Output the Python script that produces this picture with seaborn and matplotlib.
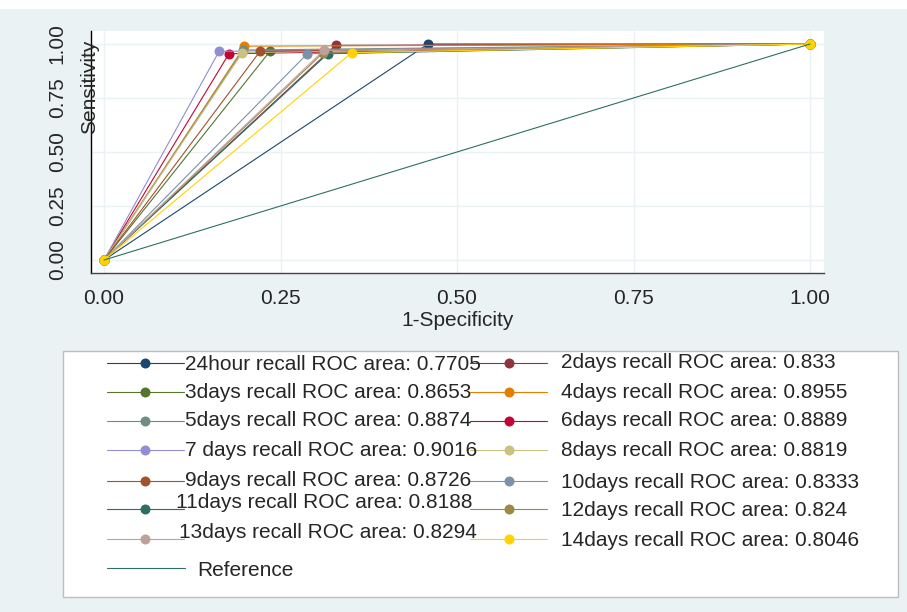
import numpy as np
import pandas as pd
import matplotlib
matplotlib.use("Agg")
import matplotlib.pyplot as plt
import seaborn as sns
from matplotlib.lines import Line2D
from matplotlib.patches import Rectangle

# ============================================================
# Data
# ============================================================

names = ["24hour", "2days", "3days", "4days", "5days", "6days", "7 days",
         "8days", "9days", "10days", "11days", "12days", "13days", "14days"]
roc_area = ["0.7705", "0.833", "0.8653", "0.8955", "0.8874", "0.8889", "0.9016",
            "0.8819", "0.8726", "0.8333", "0.8188", "0.824", "0.8294", "0.8046"]
# single cut-point of each classifier (1-specificity, sensitivity)
fpr = [0.459, 0.328, 0.235, 0.199, 0.197, 0.177, 0.163,
       0.196, 0.221, 0.288, 0.317, 0.310, 0.311, 0.351]
tpr = [1.000, 0.994, 0.966, 0.990, 0.972, 0.955, 0.966,
       0.960, 0.966, 0.955, 0.955, 0.958, 0.970, 0.960]
ref_x = [0.0, 1.0]
ref_y = [0.0, 1.0]
ticks = [0.0, 0.25, 0.5, 0.75, 1.0]
tick_labels = ["0.00", "0.25", "0.50", "0.75", "1.00"]

colors = ["#1a476f", "#90353b", "#55752f", "#e37e00", "#6e8e84", "#c10534", "#938dd2",
          "#cac27e", "#a0522d", "#7b92a8", "#2d6d66", "#9c8847", "#bfa19c", "#ffd200"]
ref_color = "#2e7063"

labels = [f"{n} recall ROC area: {a}" for n, a in zip(names, roc_area)]

rows = []
for lab, fx, ty in zip(labels, fpr, tpr):
    for i, (x, y) in enumerate([(0.0, 0.0), (fx, ty), (1.0, 1.0)]):
        rows.append({"curve": lab, "order": i, "fpr": x, "tpr": y})
df = pd.DataFrame(rows)
ref_df = pd.DataFrame({"fpr": ref_x, "tpr": ref_y})

# ============================================================
# Figure
# ============================================================

sns.set_style("white")
plt.rcParams["font.family"] = ["Liberation Sans", "DejaVu Sans"]
FS = 15
BG = "#eaf2f3"

W, H = 907, 612
fig = plt.figure(figsize=(W / 100, H / 100), dpi=100)
fig.patch.set_facecolor(BG)


def fx_(x):
    return x / W


def fy_(y):
    return 1 - y / H


# white strip at the very top of the image
fig.add_artist(Rectangle((0, fy_(9)), 1, 9 / H, transform=fig.transFigure,
                         facecolor="white", edgecolor="none", zorder=0))

ax = fig.add_axes([fx_(91), fy_(273), (824 - 91) / W, (273 - 31) / H])
ax.set_facecolor("white")

sns.lineplot(data=df, x="fpr", y="tpr", hue="curve", hue_order=labels, palette=colors,
             units="curve", estimator=None, sort=False, marker="o", markersize=7.2,
             markeredgewidth=0, linewidth=0.8, legend=False, ax=ax)
sns.lineplot(data=ref_df, x="fpr", y="tpr", color=ref_color, linewidth=0.8,
             estimator=None, sort=False, ax=ax)

ax.set_xlim((91 - 104) / 706, (824 - 104) / 706)
ax.set_ylim(-(273 - 260) / 216, (260 - 31) / 216)
ax.set_xticks(ticks)
ax.set_xticklabels(tick_labels, fontsize=FS)
ax.set_yticks(ticks)
ax.set_yticklabels(tick_labels, fontsize=FS, rotation=90, va="center")
ax.grid(True, color=BG, linewidth=1.0)
ax.set_axisbelow(True)
ax.tick_params(axis="both", direction="out", length=6.5, width=0.8, color="#333333")
ax.tick_params(axis="x", pad=5)
ax.tick_params(axis="y", pad=11)
ax.set_xlabel("1-Specificity", fontsize=FS, labelpad=2.5)
ax.set_ylabel("")
for s in ["top", "right"]:
    ax.spines[s].set_visible(False)
ax.spines["left"].set_color("black")
ax.spines["bottom"].set_color("#444444")
ax.spines["left"].set_linewidth(1.0)
ax.spines["bottom"].set_linewidth(1.0)

fig.text(fx_(90), fy_(87), "Sensitivity", rotation=90, fontsize=FS,
         ha="center", va="center")

# ============================================================
# Legend box (two columns, Stata style)
# ============================================================

fig.add_artist(Rectangle((fx_(63), fy_(597)), (898 - 63) / W, (597 - 351) / H,
                         transform=fig.transFigure, facecolor="white",
                         edgecolor="#bdbdbd", linewidth=1.0, zorder=1))

left_idx = [0, 2, 4, 6, 8, 10, 12]
right_idx = [1, 3, 5, 7, 9, 11, 13]
row_y = [363, 392, 421, 450, 481, 509, 539]
left_text_x = [185, 185, 185, 185, 185, 176, 179]
left_text_dy = [1, 0, 0, 0, 0, -6, -7]
right_text_dy = [0, 0, 0, 0, 1, 2, 1]


def legend_entry(x0, x1, xm, y, color, marker=True):
    fig.add_artist(Line2D([fx_(x0), fx_(x1)], [fy_(y), fy_(y)], transform=fig.transFigure,
                          color=color, linewidth=0.8, zorder=2))
    if marker:
        fig.add_artist(Line2D([fx_(xm)], [fy_(y)], transform=fig.transFigure, marker="o",
                              markersize=7.2, markeredgewidth=0, color=color, zorder=3))


for k, i in enumerate(left_idx):
    legend_entry(107, 184, 145, row_y[k], colors[i])
    fig.text(fx_(left_text_x[k]), fy_(row_y[k] + left_text_dy[k]), labels[i], fontsize=FS,
             ha="left", va="center", zorder=4)

for k, i in enumerate(right_idx):
    legend_entry(470, 547, 509, row_y[k], colors[i])
    fig.text(fx_(561), fy_(row_y[k] + right_text_dy[k]), labels[i], fontsize=FS,
             ha="left", va="center", zorder=4)

legend_entry(107, 185, 0, 568, ref_color, marker=False)
fig.text(fx_(197), fy_(570), "Reference", fontsize=FS, ha="left", va="center", zorder=4)

plt.savefig("out.png", dpi=100, facecolor=fig.get_facecolor())
